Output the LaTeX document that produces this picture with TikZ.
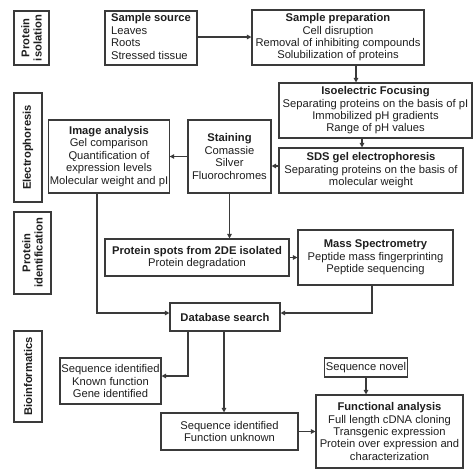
\documentclass[tikz,border=0pt]{standalone}
\usepackage{fontspec}
\setmainfont{Liberation Sans}
\usetikzlibrary{arrows.meta}
\definecolor{linec}{HTML}{3A3A3A}
\definecolor{textc}{HTML}{1E1E1E}
\tikzset{
  box/.style={draw=linec, line width=1.1pt, rectangle, inner sep=1pt, align=center,
    text=textc, font=\fontsize{11.2}{12.4}\selectfont},
  sidebox/.style={box, rotate=90, font=\bfseries\fontsize{11.2}{12.4}\selectfont},
  arr/.style={draw=linec, line width=1.1pt, -{Triangle[length=4.5pt,width=4.5pt]}},
  conn/.style={draw=linec, line width=1.1pt}
}
\begin{document}
\begin{tikzpicture}[x=1pt,y=-1pt]
\useasboundingbox (0,0) rectangle (474,474);
% side labels
\node[sidebox, minimum width=54pt, minimum height=35pt] (sA) at (31.5,38) {Protein\\isolation};
\node[sidebox, minimum width=109pt, minimum height=28pt] (sB) at (28,147.5) {Electrophoresis};
\node[sidebox, minimum width=82pt, minimum height=37pt] (sC) at (32.5,253) {Protein\\identification};
\node[sidebox, minimum width=91pt, minimum height=28pt] (sD) at (28,376.5) {Bioinformatics};
% main boxes
\node[box, minimum width=92pt, minimum height=54pt] (src) at (151,38)
  {\begin{tabular}{@{}l@{}}\textbf{Sample source}\\Leaves\\Roots\\Stressed tissue\end{tabular}};
\node[box, minimum width=172pt, minimum height=55pt] (prep) at (338,37.5)
  {\textbf{Sample preparation}\\Cell disruption\\Removal of inhibiting compounds\\Solubilization of proteins};
\node[box, minimum width=193pt, minimum height=55pt] (ief) at (375.5,110.5)
  {\textbf{Isoelectric Focusing}\\Separating proteins on the basis of pI\\Immobilized pH gradients\\Range of pH values};
\node[box, minimum width=184pt, minimum height=45pt] (sds) at (371,170.5)
  {\textbf{SDS gel electrophoresis}\\Separating proteins on the basis of\\molecular weight};
\node[box, minimum width=83pt, minimum height=73pt] (stain) at (229.5,156.5)
  {\textbf{Staining}\\Comassie\\Silver\\Fluorochromes};
\node[box, minimum width=120pt, minimum height=73pt] (img) at (109,156.5)
  {\textbf{Image analysis}\\Gel comparison\\Quantification of\\expression levels\\Molecular weight and pI};
\node[box, minimum width=184pt, minimum height=37pt] (spots) at (197,257.5)
  {\textbf{Protein spots from 2DE isolated}\\Protein degradation};
\node[box, minimum width=155pt, minimum height=55pt] (ms) at (375.5,257.5)
  {\textbf{Mass Spectrometry}\\Peptide mass fingerprinting\\Peptide sequencing};
\node[box, minimum width=110pt, minimum height=28pt] (db) at (225,317)
  {\textbf{Database search}};
\node[box, minimum width=101pt, minimum height=46pt] (known) at (110.5,381)
  {Sequence identified\\Known function\\Gene identified};
\node[box, minimum width=137pt, minimum height=37pt] (unknown) at (229.5,431.5)
  {Sequence identified\\Function unknown};
\node[box, minimum width=82pt, minimum height=19pt] (novel) at (366,367.5)
  {Sequence novel};
\node[box, minimum width=147pt, minimum height=73pt] (func) at (389.5,431.5)
  {\textbf{Functional analysis}\\Full length cDNA cloning\\Transgenic expression\\Protein over expression and\\characterization};
% connectors
\draw[arr] (src.east |- 0,37) -- (prep.west |- 0,37);
\draw[arr] (prep.south -| 356,0) -- (ief.north -| 356,0);
\draw[arr] (ief.south -| 362,0) -- (sds.north -| 362,0);
\draw[arr] (sds.west |- 0,166) -- (stain.east |- 0,166);
\draw[arr] (stain.west) -- (img.east);
\draw[arr] (stain.south) -- (stain.south |- spots.north);
\draw[arr] (spots.east) -- (ms.west);
\draw[arr] (ms.south -| 372,0) |- (db.east |- 0,313);
\draw[arr] (img.south -| 97,0) |- (db.west |- 0,313);
\draw[arr] (db.south -| 188,0) |- (known.east |- 0,376);
\draw[arr] (db.south -| 224,0) -- (unknown.north -| 224,0);
\draw[arr] (unknown.east) -- (func.west);
\draw[arr] (novel.south) -- (func.north -| novel.south);
\end{tikzpicture}
\end{document}
